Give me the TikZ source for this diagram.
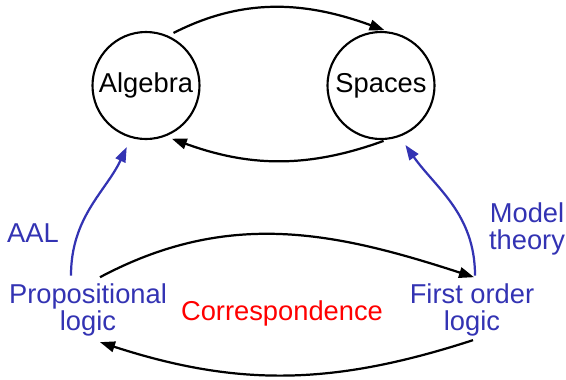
\documentclass[tikz,border=0pt]{standalone}
\usepackage{fontspec}
\setmainfont{Liberation Sans}
\usepackage{tikz}
\usetikzlibrary{arrows.meta}
\definecolor{logblue}{RGB}{51,51,179}
\definecolor{corrred}{RGB}{255,0,0}
\tikzset{
  bignode/.style={draw, circle, line width=1.8pt, minimum size=3.21cm, inner sep=0pt,
                  font=\fontsize{23.3}{22.5}\selectfont},
  lognode/.style={text=logblue, align=center, inner sep=0pt,
                  font=\fontsize{23.3}{22.5}\selectfont},
  lbl/.style={inner sep=0pt, align=center, font=\fontsize{23.3}{22.5}\selectfont},
  arr/.style={-{Triangle[length=0.45cm,width=0.32cm]}, line width=1.9pt},
  bluearr/.style={arr, draw=logblue}
}

\begin{document}
\begin{tikzpicture}[x=0.03cm,y=-0.03cm]
  \useasboundingbox (0,0) rectangle (566,379);

  % circles
  \node[bignode] (alg) at (146,85.5) {Algebra};
  \node[bignode] (sp)  at (381,85.5) {Spaces};

  % logics
  \node[lognode] (prop) at (88,310)  {Propositional\\logic};
  \node[lognode] (fol)  at (472,310) {First order\\logic};

  % labels
  \node[lbl, text=logblue] (aal) at (33,233) {AAL};
  \node[lbl, text=logblue] (mt)  at (527,229) {Model\\theory};
  \node[lbl, text=corrred] (corr) at (282,313) {Correspondence};

  % arrows between the circles
  \draw[arr, shorten <=0.18cm, shorten >=0.1cm] (alg.66) to[out=27,in=160] (sp.83);
  \draw[arr, shorten <=0.1cm, shorten >=0.2cm] (sp.-84) to[out=200,in=-20] (alg.-69);

  % blue arrows up
  \draw[bluearr, shorten >=0.3cm] ([xshift=-0.51cm,yshift=0.25cm]prop.north)
       to[out=90,in=-115] (alg.-106);
  \draw[bluearr, shorten >=0.3cm] ([xshift=0.09cm,yshift=0.25cm]fol.north)
       to[out=90,in=-55] (sp.-70);

  % correspondence arrows
  \draw[arr] ([xshift=0.36cm,yshift=0.2cm]prop.north)
       to[out=28,in=162] ([xshift=0.06cm,yshift=0.2cm]fol.north);
  \draw[arr] ([xshift=0.03cm,yshift=-0.12cm]fol.south)
       to[out=198,in=-18] ([xshift=0.36cm,yshift=-0.18cm]prop.south);
\end{tikzpicture}
\end{document}
